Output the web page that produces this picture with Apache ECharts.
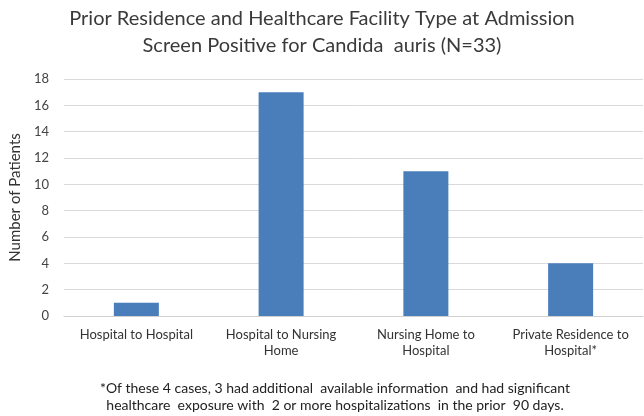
<!DOCTYPE html>
<html>
<head>
<meta charset="utf-8">
<script src="https://cdn.jsdelivr.net/npm/echarts@6/dist/echarts.min.js"></script>
<style>
html,body{margin:0;padding:0;background:#fff;}
#chart{width:644px;height:416px;}
</style>
</head>
<body>
<div id="chart"></div>
<script>
const titleLines = ['Prior Residence and Healthcare Facility Type at Admission', 'Screen Positive for Candida  auris (N=33)'];
const categories = ['Hospital to Hospital', 'Hospital to Nursing\nHome', 'Nursing Home to\nHospital', 'Private Residence to\nHospital*'];
const patients = [1, 17, 11, 4];
const yTicks = [0, 2, 4, 6, 8, 10, 12, 14, 16, 18];
const yAxisName = 'Number of Patients';
const footnoteLines = ['*Of these 4 cases, 3 had additional  available information  and had significant', 'healthcare  exposure with  2 or more hospitalizations  in the prior  90 days.'];

const FONT = 'Lato, "Open Sans", sans-serif';
const chart = echarts.init(document.getElementById('chart'), null, {renderer: 'canvas'});
chart.setOption({
  animation: false,
  backgroundColor: '#ffffff',
  title: [{
    text: titleLines.join('\n'),
    left: 322,
    top: 5,
    padding: 0,
    textAlign: 'center',
    textStyle: {fontFamily: FONT, fontSize: 20, fontWeight: 'normal', color: '#3a3a3a', lineHeight: 27}
  }, {
    text: footnoteLines.join('\n'),
    left: 335,
    top: 380,
    padding: 0,
    textAlign: 'center',
    textStyle: {fontFamily: FONT, fontSize: 14, fontWeight: 'normal', color: '#222', lineHeight: 17}
  }],
  grid: {left: 60, right: 1, top: 79, bottom: 100, containLabel: false},
  xAxis: {
    type: 'category',
    data: categories,
    axisLine: {show: true, lineStyle: {color: '#d0d0d0', width: 1}},
    axisTick: {show: false},
    axisLabel: {interval: 0, fontFamily: FONT, fontSize: 13, color: '#333', lineHeight: 16, margin: 11}
  },
  yAxis: {
    type: 'value',
    min: yTicks[0],
    max: yTicks[yTicks.length - 1],
    interval: 2,
    name: yAxisName,
    nameLocation: 'middle',
    nameGap: 35,
    nameRotate: 90,
    nameTextStyle: {fontFamily: FONT, fontSize: 15, color: '#333'},
    axisLine: {show: false},
    axisTick: {show: false},
    axisLabel: {fontFamily: FONT, fontSize: 13, color: '#444', margin: 15},
    splitLine: {lineStyle: {color: '#d9d9d9', width: 1}}
  },
  series: [{
    type: 'bar',
    data: patients,
    barWidth: 45,
    itemStyle: {color: '#4a7ebb'}
  }]
});
</script>
</body>
</html>
